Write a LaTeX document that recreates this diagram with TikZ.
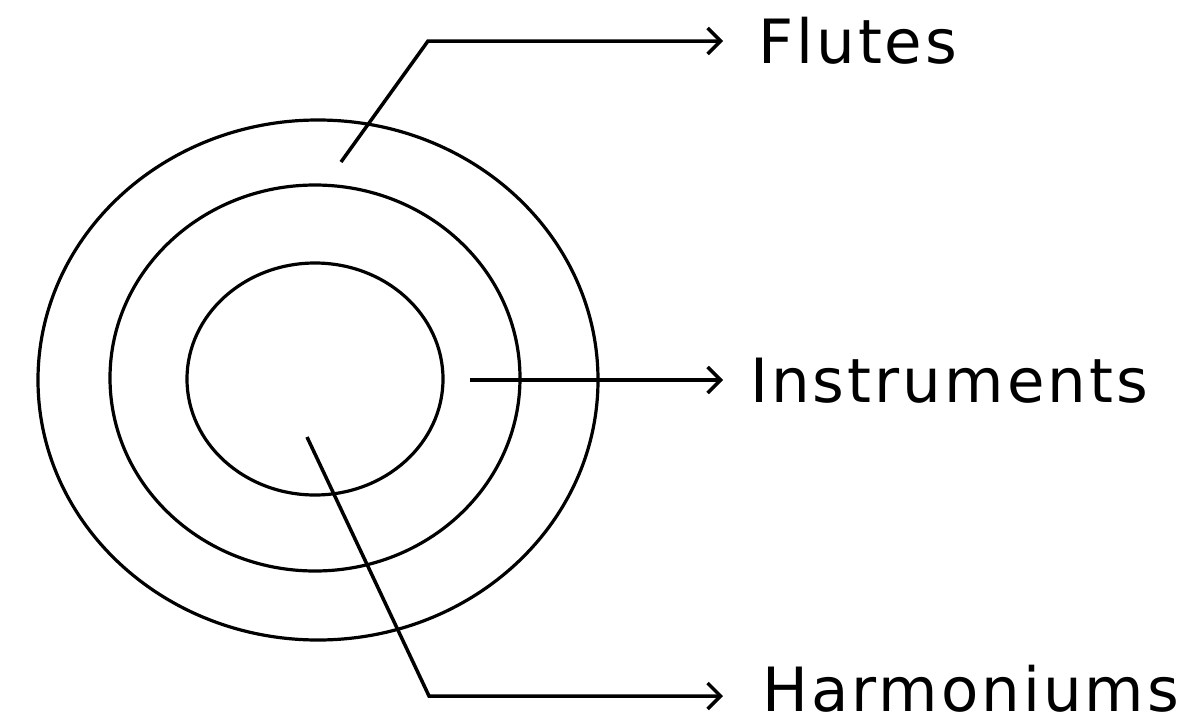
\documentclass[tikz,border=0pt]{standalone}
\usepackage{fontspec}
\setmainfont{DejaVu Sans}[LetterSpace=5]
\usetikzlibrary{arrows.meta}
\begin{document}
\begin{tikzpicture}[x=1pt,y=-1pt,
  ring/.style={draw,line width=3.2pt},
  lead/.style={draw,line width=3.5pt,-{Straight Barb[length=13pt,width=26pt,line width=3.5pt]}},
  lbl/.style={anchor=base west,inner sep=0pt,font=\fontsize{61}{66}\selectfont}]
\useasboundingbox (0,0) rectangle (1192,726);
\draw[ring] (318,380) ellipse [x radius=280,y radius=260];
\draw[ring] (315,378) ellipse [x radius=205,y radius=193];
\draw[ring] (315,379) ellipse [x radius=128,y radius=116];
\coordinate (f0) at (341,162);
\coordinate (f1) at (428,41);
\coordinate (i0) at (470,380);
\coordinate (h0) at (307,437);
\coordinate (h1) at (429,696);
\node[lbl] (flutes) at (758,63) {Flutes};
\node[lbl] (instr) at (750,402) {Instruments};
\node[lbl] (harm) at (762,711) {Harmoniums};
\draw[lead] (f0) -- (f1) -- (723,41);
\draw[lead] (i0) -- (723,380);
\draw[lead] (h0) -- (h1) -- (723,696);
\end{tikzpicture}
\end{document}
